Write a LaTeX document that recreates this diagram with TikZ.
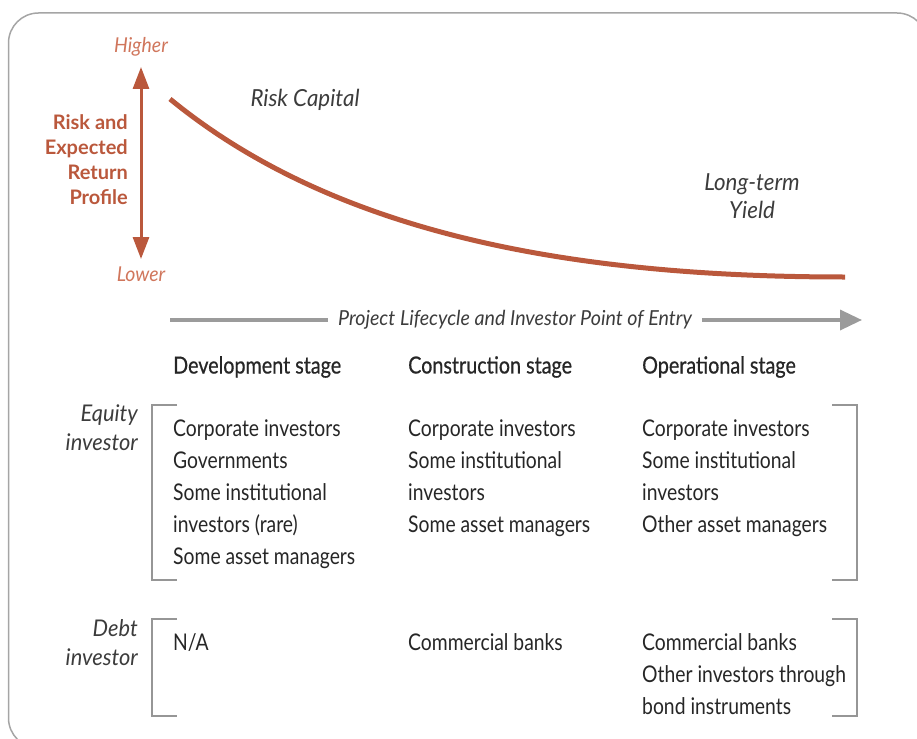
\documentclass[tikz,border=0pt]{standalone}
\usepackage{fontspec}
\setmainfont[FakeStretch=0.84]{Lato}
\newfontfamily\hdfont[FakeStretch=0.84,FakeBold=0.6]{Lato}
\newfontfamily\rerfont{Lato}
\newfontfamily\itfont[FakeStretch=0.95]{Lato}
\usetikzlibrary{arrows.meta}
\definecolor{rust}{RGB}{186,88,60}
\definecolor{salmon}{RGB}{208,118,92}
\definecolor{txt}{RGB}{38,38,38}
\definecolor{lbl}{RGB}{60,60,60}
\definecolor{framegray}{RGB}{165,165,165}
\definecolor{arrowgray}{RGB}{155,155,155}
\definecolor{brk}{RGB}{150,150,150}
\tikzset{
  hilo/.style={text=salmon, font=\itfont\fontsize{20.5}{22}\selectfont\itshape, inner sep=0pt},
  rerlbl/.style={text=rust, font=\rerfont\bfseries\fontsize{20}{25}\selectfont, align=right, inner sep=0pt, anchor=east},
  curvelbl/.style={text=lbl, font=\itfont\fontsize{23.5}{28}\selectfont\itshape, align=center, inner sep=0pt},
  header/.style={text=txt, font=\hdfont\fontsize{23.5}{26}\selectfont, anchor=west, inner sep=0pt},
  cell/.style={text=txt, font=\fontsize{23}{32}\selectfont, align=left, anchor=north west, inner sep=0pt},
  rowlbl/.style={text=lbl, font=\itfont\fontsize{23}{29}\selectfont\itshape, align=right, anchor=north east, inner sep=0pt},
  bracket/.style={draw=brk, line width=1.2pt},
}
\begin{document}
\begin{tikzpicture}[x=1pt,y=-1pt]
\useasboundingbox (0,0) rectangle (917,738);
\begin{scope}
\clip (0,0) rectangle (917,738);
\draw[framegray, line width=1.5pt, rounded corners=30pt] (8.5,13) rectangle (927,748);
\end{scope}
% vertical arrow
\coordinate (vtop) at (141,67);
\coordinate (vbot) at (141,259);
\draw[rust, line width=3pt, {Triangle[width=16pt,length=22pt]}-{Triangle[width=16pt,length=22pt]}] (vtop) -- (vbot);
\node[hilo] (higher) at (141,47) {Higher};
\node[hilo] (lower) at (141,274) {Lower};
\node[rerlbl] (rer) at (128,160) {Risk and\\Expected\\Return\\Profile};
% curve
\coordinate (cstart) at (170,99);
\coordinate (cend) at (845,277);
\draw[rust, line width=5pt] (cstart) .. controls (330,230) and (560,277) .. (cend);
\node[curvelbl] (riskcap) at (305,100) {Risk Capital};
\node[curvelbl] (ltyield) at (752,196) {Long-term\\Yield};
% lifecycle arrow
\node[text=lbl, font=\itfont\fontsize{20.7}{22}\selectfont\itshape, inner xsep=10pt, inner ysep=0pt] (plc) at (515,320) {Project Lifecycle and Investor Point of Entry};
\coordinate (pl0) at (170,320);
\coordinate (pl1) at (862,320);
\draw[arrowgray, line width=3.5pt] (pl0) -- (plc.west);
\draw[arrowgray, line width=3.5pt, -{Triangle[width=20pt,length=22pt]}] (plc.east) -- (pl1);
% headers
\node[header] (h1) at (173,367) {Development stage};
\node[header] (h2) at (408,367) {Construction stage};
\node[header] (h3) at (642,367) {Operational stage};
% row labels
\node[rowlbl] (eqlbl) at (138,405) {Equity\\investor};
\node[rowlbl] (dblbl) at (138,619) {Debt\\investor};
% equity cells
\node[cell] (e1) at (173,420) {Corporate investors\\Governments\\Some institutional\\investors (rare)\\Some asset managers};
\node[cell] (e2) at (408,420) {Corporate investors\\Some institutional\\investors\\Some asset managers};
\node[cell] (e3) at (642,420) {Corporate investors\\Some institutional\\investors\\Other asset managers};
% debt cells
\node[cell] (d1) at (173,633) {N/A};
\node[cell] (d2) at (408,633) {Commercial banks};
\node[cell] (d3) at (642,633) {Commercial banks\\Other investors through\\bond instruments};
% brackets
\draw[bracket] (177,405) -- (152,405) -- (152,580) -- (177,580);
\draw[bracket] (832,405) -- (857,405) -- (857,580) -- (832,580);
\draw[bracket] (177,619) -- (152,619) -- (152,716) -- (177,716);
\draw[bracket] (832,619) -- (857,619) -- (857,716) -- (832,716);
\end{tikzpicture}
\end{document}
